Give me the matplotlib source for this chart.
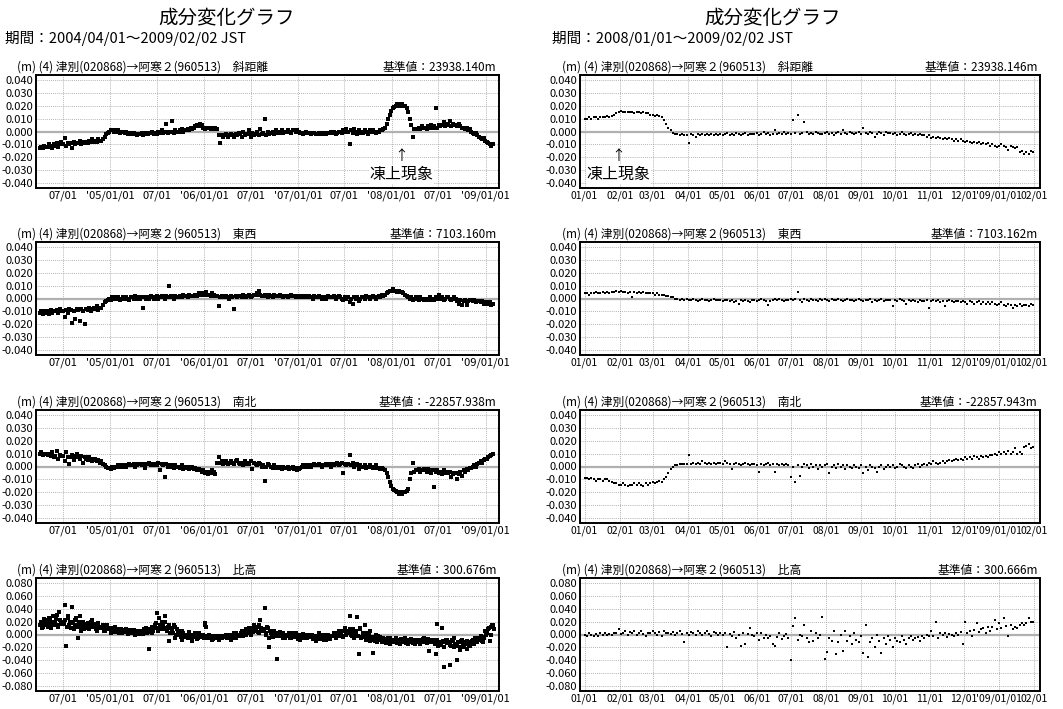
import numpy as np
import pandas as pd
import matplotlib
matplotlib.use('Agg')
import matplotlib.pyplot as plt

plt.rcParams['font.family'] = ['Noto Sans CJK JP', 'DejaVu Sans']

# long term: one sample every 6 days from 2004/04/01, short term: every 2 days from 2008/01/01
LONG_START = '2004-04-01'
LONG_START_B = '2004-04-04'  # second height series, shifted by 3 days
SHORT_START = '2008-01-01'

COMPONENTS = ['斜距離', '東西', '南北', '比高']
BASE_LONG = ['23938.140', '7103.160', '-22857.938', '300.676']
BASE_SHORT = ['23938.146', '7103.162', '-22857.943', '300.666']

# displacement in mm
slope_long = [
    -13, -12, -13, -11, -12, -12, -10, -11, -13, -10, -11, -9, -12, -10, -8,
    -10, -5, -11, -9, -10, -9, -13, -8, -10, -9, -9, -7, -10, -8, -9,
    -8, -9, -7, -8, -6, -8, -7, -8, -6, -7, -7, -6, -4, -2, -1,
    0, 1, 1, 0, 1, 0, 1, -1, 0, 0, -1, 0, -2, -1, -1,
    -2, -1, -2, -3, -2, -2, -1, -3, -2, -1, -2, -1, -1, 0, -2,
    -1, -2, 0, -1, 1, -1, 0, 6, -1, 0, 0, 8, -1, 1, 0,
    0, 1, 2, 0, 1, 1, 2, 1, 3, 2, 3, 4, 5, 4, 6,
    5, 3, 2, 3, 3, 3, 2, 3, 2, 3, 2, -3, -9, -3, -4,
    -3, -2, -4, -3, -2, -3, -4, -2, -3, -1, -2, -4, 0, -3, -2,
    -2, 1, -4, -1, -3, -2, 0, -3, 2, -2, -1, 10, -3, 0, -2,
    -1, 0, -2, 1, -1, -1, 0, 1, -1, 0, 0, 1, 0, -1, 1,
    1, 0, 1, 0, -1, -1, -2, -1, 0, -1, -1, -2, -1, -1, -2,
    -2, -1, -2, -1, -2, -1, -2, -1, -1, 0, -1, 0, -2, -1, 0,
    0, -1, 1, 0, 2, 0, -10, 1, -1, 2, 0, -2, 1, -1, 0,
    -1, 1, 0, -2, 1, 0, 1, 0, -1, 0, 0, 1, 1, 2, 3,
    6, 10, 13, 16, 18, 19, 20, 21, 21, 20, 21, 20, 20, 18, 15,
    10, 5, -4, 2, 2, 2, 3, 2, 4, 3, 3, 2, 4, 3, 5,
    3, 4, 18, 3, 5, 4, 5, 7, 4, 6, 5, 8, 4, 6, 5,
    5, 4, 6, 4, 3, 3, 2, 3, 1, 2, 0, -1, -2, -1, -3,
    -4, -5, -6, -5, -7, -8, -9, -10, -11, -10,
]
ew_long = [
    -11, -10, -12, -10, -11, -10, -12, -9, -11, -10, -10, -9, -11, -8, -10,
    -10, -14, -9, -11, -8, -9, -19, -10, -16, -8, -9, -17, -8, -10, -20,
    -8, -9, -7, -10, -8, -7, -8, -6, -9, -7, -7, -5, -3, -2, -1,
    0, -1, 1, 0, 1, 0, 1, -1, 0, 1, 0, 1, 0, -1, 1,
    1, 0, 2, 0, 1, 0, 1, -7, 1, 0, 1, 0, 2, 1, 0,
    1, 2, 0, 1, 2, 1, 0, 2, 1, 10, 2, 1, 0, 2, 1,
    1, 2, 1, 3, 2, 2, 1, 3, 2, 2, 2, 3, 2, 4, 3,
    3, 4, 3, 5, 3, 3, 2, 4, 3, 2, 2, -6, 1, 2, 1,
    1, 2, 1, 0, 2, 1, -8, 2, 1, 2, 2, 1, 3, 2, 1,
    2, 3, 1, 2, 3, 3, 4, 6, 3, 2, 2, 3, 2, 1, 3,
    2, 1, 3, 2, 2, 2, 3, 2, 1, 2, 2, 1, 2, 3, 2,
    2, 1, 2, 1, 2, 1, 2, 1, 2, 1, 2, 1, 0, 2, 1,
    1, 2, 1, 0, 1, 1, 0, 2, 1, 1, 1, 2, 0, 1, 2,
    1, 0, -1, 1, 0, 1, -3, 0, -4, 1, 0, 1, -2, 0, 1,
    1, 0, 2, 1, 0, 1, 2, 1, 0, 1, 2, 1, 3, 2, 3,
    4, 5, 6, 6, 7, 6, 6, 5, 6, 5, 5, 4, 3, 2, 1,
    0, 1, -1, 0, 1, 0, -1, 1, 0, -1, 0, -1, 0, 1, -1,
    0, -1, 1, 0, 3, 0, 1, -1, 0, 1, 1, 0, -1, 0, 1,
    0, -2, -4, -1, -5, -2, -1, -5, -2, -1, -1, -2, -1, -3, -2,
    -2, -3, -2, -4, -3, -3, -4, -3, -5, -4,
]
ns_long = [
    10, 11, 9, 10, 10, 9, 10, 8, 11, 7, 8, 12, 6, 9, 8,
    8, 4, 11, 7, 2, 7, 9, 5, 8, 10, 7, 6, 8, 3, 7,
    6, 5, 7, 6, 4, 5, 6, 4, 5, 3, 4, 2, 1, 0, -1,
    -1, -2, 0, -1, 0, 0, 1, 0, 1, 0, 1, 0, 1, 2, 1,
    1, 2, 0, 1, 2, 2, 1, 2, -1, 2, 2, 3, 1, 2, 1,
    2, 1, 3, -3, 2, 1, -8, 2, 0, 1, 1, 0, -1, 1, 0,
    0, -1, 1, -2, 0, -1, 0, -2, -1, 0, -2, -1, -3, -2, -3,
    -4, -3, -5, -4, -6, -4, -5, -3, -4, -6, 3, 7, 3, 4, 2,
    3, 4, 2, 3, 4, 3, 2, 4, 5, 3, 2, 3, 1, 4, 2,
    3, 2, 4, -2, 3, 2, 1, 3, 2, 0, 1, -11, 0, 2, 1,
    0, -1, 1, 0, -1, 0, -1, -2, 0, -1, -1, 0, -2, -1, 0,
    -2, -1, -3, -2, -1, 0, 1, 0, 1, 0, 1, 0, 1, 2, 1,
    1, 2, 1, 0, 1, 1, 2, 1, 2, 0, 2, 1, 2, 3, 1,
    2, 3, -5, 2, 1, 2, 9, 1, 3, 0, 1, 2, -2, 1, 0,
    0, 1, -1, 0, 1, 0, -1, 0, 1, -1, -1, -2, -1, -2, -3,
    -5, -8, -12, -15, -17, -18, -19, -20, -21, -20, -21, -20, -20, -19, -17,
    -10, -5, 3, -4, -3, -3, -2, -4, -3, -2, -3, -4, -2, -3, -5,
    -3, -16, -4, -3, -5, -4, -6, -3, -5, -4, -5, -4, -8, -6, -5,
    -5, -10, -6, -4, -7, -3, -4, -2, -3, -1, -1, 0, 1, 0, 2,
    3, 4, 3, 5, 6, 6, 7, 8, 9, 10,
]
up_long = [
    15, 20, 12, 18, 22, 17, 25, 10, 20, 14, 19, 30, 12, 22, 16,
    20, 45, -17, 25, 14, 18, 42, 8, 22, 12, 15, 28, 5, 20, 10,
    13, 18, 8, 15, 22, 12, 16, 6, 14, 10, 10, 14, 5, 12, 8,
    8, 3, 10, 6, 12, 6, 9, 2, 7, 4, 5, 8, 1, 6, 3,
    4, 7, 0, 5, 3, 3, 6, 1, 4, 10, 5, -23, 8, 2, 10,
    12, 33, 6, 15, 20, 15, 28, 8, 12, -10, 10, 5, 14, -6, 8,
    5, 0, -8, 3, -4, 0, -5, 4, -3, -10, -2, 3, -7, 0, -4,
    -4, 0, 18, 12, -6, -5, -2, -8, -3, -6, -5, -8, -2, -6, -4,
    -4, 0, -6, -2, -8, -2, 3, -5, 0, -3, 0, 5, -3, 2, 8,
    4, 10, 0, 6, 15, 6, 12, 2, 22, 8, 5, 41, 0, 10, -20,
    2, -4, 6, 0, -37, 0, 4, -3, 2, -6, 0, -2, 3, -5, 1,
    -1, 2, -4, 0, -8, -2, 1, -5, -3, 0, -3, 0, -6, -2, -10,
    -4, 2, -7, -3, 0, -3, -8, 0, -5, -2, -2, 3, -6, -1, 5,
    0, 5, -4, 10, 2, 5, 28, 0, 8, -5, 3, 27, -30, 8, -4,
    0, 15, -8, -4, 5, -5, -28, -8, 0, -12, -8, -4, -12, -6, -10,
    -10, -6, -14, -8, -12, -10, -5, -13, -8, -11, -9, -12, -6, -10, -14,
    -10, -7, -13, -9, -12, -11, -8, -14, -10, -6, -10, -13, -7, -11, -9,
    -12, -8, -30, 16, -14, -14, 10, -50, -12, -8, -13, -47, -18, -10, -6,
    -15, -40, -12, -20, -8, -16, -12, -22, -14, -18, -12, -8, -15, -10, -5,
    -6, -2, -10, -4, 5, 2, 8, -10, 12, 15,
]
up_long_b = [
    18, 10, 24, 14, 20, 12, 22, 16, 28, 18, 24, 14, 35, 18, 20,
    16, 22, 12, 28, 20, 10, 20, 15, 25, -5, 20, 12, 18, 8, 15,
    16, 10, 12, 20, 14, 15, 8, 18, 12, 10, 12, 6, 10, 15, 9,
    10, 5, 8, 4, 7, 5, 2, 8, 3, 6, 4, 6, 2, 7, 5,
    2, 5, 3, 6, 1, 5, 2, 8, 4, 3, 8, 4, 12, 6, 15,
    18, 10, 25, 14, 8, 10, 20, 6, 14, 2, 8, 2, 12, 0, 6,
    2, -4, 5, -2, 0, -3, 2, -6, 0, -4, -4, -1, -6, 2, -3,
    -2, -5, 15, -3, -1, -6, -3, -7, -4, -2, -4, -7, -3, -5, -2,
    -3, -6, -1, -4, -5, -1, -4, 2, -2, 0, 2, -2, 5, 0, 4,
    6, 2, 10, 4, 8, 8, 4, 15, 10, 5, 8, 2, 12, -5, 6,
    0, 5, -3, 3, -2, -2, 2, -5, 0, -3, -3, 0, -6, 2, -1,
    -4, 0, -7, -2, -3, -5, -1, -3, -6, -2, -4, -1, -7, -3, -5,
    -2, -6, 0, -4, -8, -5, -1, -4, -7, -3, -3, 0, -5, 2, -2,
    2, -2, 6, 0, 4, 2, 8, -3, 5, 0, 6, -2, 10, -5, 2,
    -3, 3, -6, 0, -10, -8, -4, -10, -6, -3, -9, -6, -11, -7, -13,
    -8, -12, -6, -10, -9, -12, -8, -10, -14, -7, -11, -8, -13, -9, -10,
    -8, -12, -10, -14, -9, -9, -13, -11, -7, -12, -12, -9, -25, -11, -8,
    -10, -14, -8, -18, -11, -16, -10, -20, -8, -13, -11, -16, -9, -20, -14,
    -18, -12, -24, -10, -16, -20, -14, -10, -17, -12, -10, -14, -6, -12, -8,
    -8, -3, -12, -5, 0, 5, 10, 0, 14, 8,
]

slope_short = [
    10, 10, 11, 10, 11, 11, 10, 11, 11, 11, 12, 11, 12, 13, 14,
    15, 16, 15, 15, 15, 15, 15, 14, 15, 15, 14, 15, 14, 14, 13,
    13, 12, 13, 12, 11, 9, 6, 3, 1, -1, -2, -2, -3, -2, -3,
    -3, -9, -2, -3, -4, -2, -3, -2, -3, -2, -3, -2, -3, -2, -3,
    -2, -3, -2, -1, -3, -2, -3, -1, -2, -3, -2, -1, -3, -2, -2,
    -2, -1, -3, -2, 0, -2, -1, -3, -2, 1, -2, -1, -2, 0, -2,
    -1, -2, 9, -1, 13, -2, -1, 7, 0, -2, -1, -2, 0, -1, -2,
    -2, -1, 0, -2, -1, -3, -1, 0, -2, 1, -1, -2, 0, -1, -2,
    -1, 0, -2, 3, -1, -2, 0, -1, -4, -2, 0, -1, -3, 0, -1,
    -1, -2, -1, -3, -2, 0, -2, -3, -2, -1, -3, -2, -3, -2, -3,
    -3, -4, -3, -5, -4, -5, -4, -5, -6, -5, -6, -5, -6, -7, -6,
    -7, -6, -7, -8, -7, -8, -9, -8, -9, -8, -10, -9, -10, -9, -11,
    -10, -11, -12, -11, -10, -11, -12, -14, -11, -12, -13, -12, -16, -15, -17,
    -16, -17, -15, -16,
]
ew_short = [
    4, 4, 3, 4, 4, 5, 4, 4, 5, 4, 5, 4, 5, 5, 6,
    5, 6, 5, 5, 4, 5, 1, 5, 4, 5, 4, 5, 4, 4, 4,
    4, 3, 4, 3, 3, 3, 2, 2, 1, 1, 0, 0, -1, 0, -1,
    0, -1, -1, 0, -1, -2, -1, 0, -1, -1, -2, -1, 0, -1, -1,
    -1, -2, -1, -1, -2, -1, -3, -2, -4, -1, -2, -1, -2, -3, -1,
    -1, -2, -1, 0, -1, -2, -5, -2, -1, 0, -1, 0, -1, -2, -1,
    -1, 0, -1, 0, 5, -1, -3, 0, -1, -2, 0, -1, -1, -2, 0,
    -1, 0, -1, -2, 0, -1, -1, 0, -1, -2, -1, 0, -1, -1, -2,
    -1, 0, -1, -2, -1, -1, 0, -3, -1, -2, -1, 0, -2, -1, -1,
    -1, -6, -1, -2, 0, -1, -2, -4, -1, -2, -1, -2, -3, -1, -2,
    -2, -1, -7, -2, -1, -2, -1, -3, -2, -6, -2, -1, -2, -3, -2,
    -2, -3, -2, -3, -4, -2, -3, -4, -3, -2, -4, -3, -4, -3, -4,
    -3, -4, -5, -4, -3, -5, -6, -4, -5, -7, -5, -6, -4, -6, -5,
    -5, -6, -4, -5,
]
ns_short = [
    -9, -9, -10, -9, -10, -11, -10, -10, -11, -10, -10, -11, -12, -13, -13,
    -14, -14, -13, -14, -15, -14, -14, -13, -14, -13, -14, -15, -13, -14, -13,
    -12, -13, -12, -11, -12, -10, -8, -5, -2, 0, 1, 1, 2, 2, 2,
    2, 9, 2, 3, 2, 3, 2, 4, 3, 2, 3, 2, 3, 2, 3,
    3, 2, 4, 3, 2, -2, 2, 3, 2, 1, 2, 3, 2, 1, 2,
    2, 1, -4, 2, 1, 2, 3, 1, 2, -4, 2, 1, 2, 1, 2,
    1, -8, 0, -12, 1, -7, 0, 2, 1, -1, 2, 0, 1, -2, 1,
    0, 1, 2, -5, 0, 1, -1, 2, 0, 1, -2, 1, 0, -1, 1,
    0, -1, 1, -5, 0, -3, 1, 0, -1, -4, 0, 1, -2, 0, 1,
    0, 1, -1, 0, 2, 1, 0, -1, 1, 0, -1, 1, 2, 0, 1,
    2, 1, 3, 2, 4, 3, 2, 3, 4, 3, 4, 5, 4, 5, 6,
    5, 6, 5, 7, 6, 7, 6, 8, 7, 6, 8, 7, 8, 7, 9,
    9, 10, 9, 11, 10, 11, 10, 12, 10, 11, 14, 10, 11, 10, 15,
    16, 17, 14, 15,
]
up_short = [
    0, -2, 2, -1, -3, 1, -2, 3, 0, 2, -1, 1, 0, 3, 2,
    8, 1, 3, 5, -1, 4, 2, 5, 0, 3, 6, 1, -2, 3, 2,
    5, 2, 0, 4, -3, 6, 2, 3, 1, 4, 0, 2, 5, 1, -12,
    2, -1, 4, 3, 0, 5, 2, -1, 3, 6, 1, -3, 4, 2, 0,
    3, -1, 2, -20, 1, -2, 4, -5, 0, -18, 2, -15, 1, 10, 0,
    -3, 3, -8, 2, -5, -1, -6, -2, -15, -18, -4, 3, -7, -2, 1,
    -5, -40, 13, 25, -8, 0, -3, 15, -5, -12, 6, -10, 2, -6, 0,
    27, -38, -27, -5, -10, 5, -30, -12, 0, -25, 5, -10, -3, -15, 2,
    -8, -12, -2, -28, 15, -35, -12, -5, -20, 0, -10, -28, -6, -15, -3,
    -8, -20, -5, -10, -12, -3, -8, -14, -6, -2, -9, -5, -4, -10, -3,
    -5, 0, -3, 5, -2, 20, -6, 2, -1, 3, -4, 1, 0, -3, 2,
    0, 4, -15, 20, 3, 5, -2, 7, 18, 4, 8, 10, 2, 12, 6,
    12, 22, 8, 18, 10, 25, 13, -3, 15, 8, 12, 10, 15, 18, 14,
    18, 25, 20, 19,
]

LONG_TICKS = ['2004-07-01', '2005-01-01', '2005-07-01', '2006-01-01', '2006-07-01',
              '2007-01-01', '2007-07-01', '2008-01-01', '2008-07-01', '2009-01-01']
LONG_TICK_LABELS = ['07/01', "'05/01/01", '07/01', "'06/01/01", '07/01',
                    "'07/01/01", '07/01', "'08/01/01", '07/01', "'09/01/01"]
SHORT_TICKS = [f'2008-{m:02d}-01' for m in range(1, 13)] + ['2009-01-01', '2009-02-01']
SHORT_TICK_LABELS = ['01/01', '02/01', '03/01', '04/01', '05/01', '06/01', '07/01',
                     '08/01', '09/01', '10/01', '11/01', '12/01', "'09/01/01", '02/01']

Y_TICKS = [-0.04, -0.03, -0.02, -0.01, 0.0, 0.01, 0.02, 0.03, 0.04]
Y_TICKS_UP = [-0.08, -0.06, -0.04, -0.02, 0.0, 0.02, 0.04, 0.06, 0.08]

# layout in pixels
FIG_W, FIG_H = 1063, 709
COLS = [(36, 463), (580, 460)]
ROW_TOPS = [75, 242, 410, 578]
AX_H = 113


def draw_panel(ax, series, xlim, ticks, tick_labels, xfont, ms, yticks, ylim, comp, base):
    ax.set_xlim(pd.Timestamp(xlim[0]), pd.Timestamp(xlim[1]))
    ax.set_ylim(-ylim, ylim)
    for t in ticks:
        ax.axvline(pd.Timestamp(t), color='#9a9a9a', lw=0.6, ls=(0, (1, 1.5)), zorder=1)
    for y in yticks:
        if y != 0:
            ax.axhline(y, color='#9a9a9a', lw=0.6, ls=(0, (1, 1.5)), zorder=1)
    ax.axhline(0, color='#b0b0b0', lw=1.6, zorder=1)
    for dates, values_mm in series:
        ax.plot(dates, np.array(values_mm) / 1000.0, 's', ms=ms, color='black',
                mew=0, zorder=3)
    ax.set_xticks([pd.Timestamp(t) for t in ticks])
    ax.set_xticklabels(tick_labels, fontsize=xfont)
    ax.set_yticks(yticks)
    ax.set_yticklabels([f'{v:.3f}' for v in yticks], fontsize=8)
    ax.tick_params(length=0, pad=2)
    for s in ax.spines.values():
        s.set_linewidth(1.4)
        s.set_color('black')
    ax.text(-0.04, 1.07, f'(m) (4) 津別(020868)→阿寒２(960513)　{comp}',
            transform=ax.transAxes, fontsize=8.5, ha='left', va='center')
    ax.text(0.995, 1.07, f'基準値：{base}m', transform=ax.transAxes,
            fontsize=8.5, ha='right', va='center')


fig = plt.figure(figsize=(FIG_W / 100, FIG_H / 100), dpi=100)
fig.patch.set_facecolor('white')


def long_dates(vals, start=LONG_START):
    return pd.date_range(start, periods=len(vals), freq='6D')


def short_dates(vals):
    return pd.date_range(SHORT_START, periods=len(vals), freq='2D')


long_panels = [
    [(long_dates(slope_long), slope_long)],
    [(long_dates(ew_long), ew_long)],
    [(long_dates(ns_long), ns_long)],
    [(long_dates(up_long), up_long), (long_dates(up_long_b, LONG_START_B), up_long_b)],
]
short_panels = [[(short_dates(v), v)] for v in (slope_short, ew_short, ns_short, up_short)]

axes = []
for col, (panels, xlim, ticks, labels, xfont, ms, bases) in enumerate([
        (long_panels, ('2004-03-17', '2009-02-22'), LONG_TICKS, LONG_TICK_LABELS, 8, 2.4,
         BASE_LONG),
        (short_panels, ('2007-12-28', '2009-02-06'), SHORT_TICKS, SHORT_TICK_LABELS, 7.5, 2.0,
         BASE_SHORT)]):
    x0, w = COLS[col]
    col_axes = []
    for row in range(4):
        top = ROW_TOPS[row]
        ax = fig.add_axes([x0 / FIG_W, 1 - (top + AX_H) / FIG_H, w / FIG_W, AX_H / FIG_H])
        if row == 3:
            yt, yl = Y_TICKS_UP, 0.087
        else:
            yt, yl = Y_TICKS, 0.0435
        draw_panel(ax, panels[row], xlim, ticks, labels, xfont, ms, yt, yl,
                   COMPONENTS[row], bases[row])
        col_axes.append(ax)
    axes.append(col_axes)

# headings
fig.text(227 / FIG_W, 1 - 18 / FIG_H, '成分変化グラフ', fontsize=14, ha='center', va='center')
fig.text(773 / FIG_W, 1 - 18 / FIG_H, '成分変化グラフ', fontsize=14, ha='center', va='center')
fig.text(5 / FIG_W, 1 - 38 / FIG_H, '期間：2004/04/01～2009/02/02 JST', fontsize=10.5,
         ha='left', va='center')
fig.text(552 / FIG_W, 1 - 38 / FIG_H, '期間：2008/01/01～2009/02/02 JST', fontsize=10.5,
         ha='left', va='center')

# frost heave marks
for ax, when in [(axes[0][0], '2008-02-09'), (axes[1][0], '2008-01-31')]:
    ax.text(pd.Timestamp(when), -0.019, '↑', fontsize=10, ha='center', va='center', zorder=4)
    ax.text(pd.Timestamp(when), -0.033, '凍上現象', fontsize=11.5, ha='center',
            va='center', zorder=4,
            bbox=dict(facecolor='white', edgecolor='none', pad=0.5))

fig.savefig('out.png', dpi=100, facecolor='white')
